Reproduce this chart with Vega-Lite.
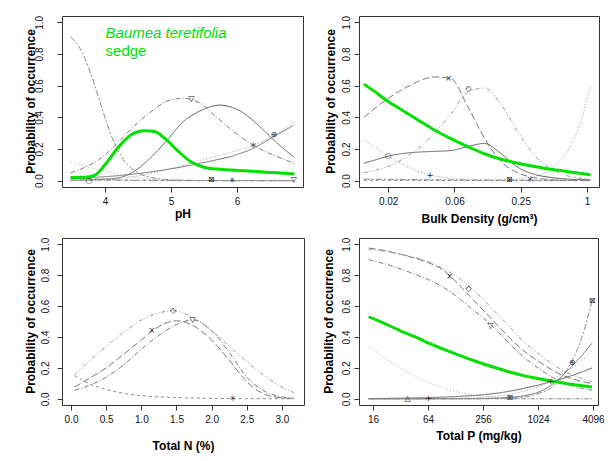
{
  "$schema": "https://vega.github.io/schema/vega-lite/v6.json",
  "background": "white",
  "padding": {"left": 23, "top": 14, "right": 5, "bottom": 5},
  "columns": 2,
  "bounds": "flush",
  "spacing": {"row": 51, "column": 55},
  "config": {
    "font": "Liberation Sans",
    "view": {"stroke": "#333333", "strokeWidth": 1},
    "axis": {
      "domain": false, "grid": false, "tickSize": 5, "tickColor": "#333333",
      "labelFont": "Liberation Sans", "labelFontSize": 10, "labelColor": "#111111",
      "titleFont": "Liberation Sans", "titleFontSize": 12, "titleFontWeight": "bold", "titleColor": "#000000",
      "labelFlush": false, "labelPadding": 4
    },
    "line": {"interpolate": "monotone", "strokeWidth": 1}
  },
  "datasets": {
    "ph_curves": [
      {"curve": "square", "pH": 3.48, "p": 0.91}, {"curve": "square", "pH": 3.6, "p": 0.85}, {"curve": "square", "pH": 3.7, "p": 0.77}, {"curve": "square", "pH": 3.8, "p": 0.66}, {"curve": "square", "pH": 3.9, "p": 0.53}, {"curve": "square", "pH": 4.0, "p": 0.40}, {"curve": "square", "pH": 4.1, "p": 0.28}, {"curve": "square", "pH": 4.2, "p": 0.19}, {"curve": "square", "pH": 4.3, "p": 0.12}, {"curve": "square", "pH": 4.4, "p": 0.08}, {"curve": "square", "pH": 4.5, "p": 0.05}, {"curve": "square", "pH": 4.7, "p": 0.02}, {"curve": "square", "pH": 4.9, "p": 0.008}, {"curve": "square", "pH": 5.2, "p": 0.003}, {"curve": "square", "pH": 5.6, "p": 0.001}, {"curve": "square", "pH": 6.87, "p": 0.0},
      {"curve": "nabla", "pH": 3.48, "p": 0.05}, {"curve": "nabla", "pH": 3.7, "p": 0.085}, {"curve": "nabla", "pH": 3.9, "p": 0.13}, {"curve": "nabla", "pH": 4.15, "p": 0.22}, {"curve": "nabla", "pH": 4.43, "p": 0.34}, {"curve": "nabla", "pH": 4.68, "p": 0.43}, {"curve": "nabla", "pH": 4.93, "p": 0.50}, {"curve": "nabla", "pH": 5.18, "p": 0.52}, {"curve": "nabla", "pH": 5.44, "p": 0.49}, {"curve": "nabla", "pH": 5.64, "p": 0.42}, {"curve": "nabla", "pH": 5.95, "p": 0.31}, {"curve": "nabla", "pH": 6.26, "p": 0.22}, {"curve": "nabla", "pH": 6.56, "p": 0.16}, {"curve": "nabla", "pH": 6.86, "p": 0.11},
      {"curve": "circle", "pH": 3.48, "p": 0.003}, {"curve": "circle", "pH": 3.9, "p": 0.008}, {"curve": "circle", "pH": 4.17, "p": 0.015}, {"curve": "circle", "pH": 4.43, "p": 0.056}, {"curve": "circle", "pH": 4.68, "p": 0.14}, {"curve": "circle", "pH": 4.93, "p": 0.25}, {"curve": "circle", "pH": 5.18, "p": 0.37}, {"curve": "circle", "pH": 5.44, "p": 0.44}, {"curve": "circle", "pH": 5.74, "p": 0.477}, {"curve": "circle", "pH": 6.05, "p": 0.44}, {"curve": "circle", "pH": 6.35, "p": 0.34}, {"curve": "circle", "pH": 6.6, "p": 0.24}, {"curve": "circle", "pH": 6.86, "p": 0.15},
      {"curve": "theta", "pH": 3.48, "p": 0.015}, {"curve": "theta", "pH": 4.0, "p": 0.025}, {"curve": "theta", "pH": 4.5, "p": 0.045}, {"curve": "theta", "pH": 5.0, "p": 0.075}, {"curve": "theta", "pH": 5.5, "p": 0.115}, {"curve": "theta", "pH": 6.0, "p": 0.165}, {"curve": "theta", "pH": 6.25, "p": 0.205}, {"curve": "theta", "pH": 6.5, "p": 0.265}, {"curve": "theta", "pH": 6.86, "p": 0.35},
      {"curve": "plus", "pH": 3.48, "p": 0.0}, {"curve": "plus", "pH": 4.0, "p": 0.005}, {"curve": "plus", "pH": 4.5, "p": 0.03}, {"curve": "plus", "pH": 5.0, "p": 0.075}, {"curve": "plus", "pH": 5.5, "p": 0.135}, {"curve": "plus", "pH": 6.0, "p": 0.19}, {"curve": "plus", "pH": 6.25, "p": 0.225}, {"curve": "plus", "pH": 6.5, "p": 0.27}, {"curve": "plus", "pH": 6.86, "p": 0.37},
      {"curve": "triangle", "pH": 3.48, "p": 0.12}, {"curve": "triangle", "pH": 3.8, "p": 0.08}, {"curve": "triangle", "pH": 4.1, "p": 0.05}, {"curve": "triangle", "pH": 4.4, "p": 0.025}, {"curve": "triangle", "pH": 4.7, "p": 0.01}, {"curve": "triangle", "pH": 5.0, "p": 0.004}, {"curve": "triangle", "pH": 5.5, "p": 0.001}, {"curve": "triangle", "pH": 6.87, "p": 0.0},
      {"curve": "flat", "pH": 3.48, "p": 0.003}, {"curve": "flat", "pH": 4.5, "p": 0.002}, {"curve": "flat", "pH": 5.5, "p": 0.0}, {"curve": "flat", "pH": 6.87, "p": 0.0},
      {"curve": "star", "pH": 3.48, "p": 0.02}, {"curve": "star", "pH": 3.8, "p": 0.012}, {"curve": "star", "pH": 4.2, "p": 0.005}, {"curve": "star", "pH": 5.0, "p": 0.001}, {"curve": "star", "pH": 6.87, "p": 0.0}
    ],
    "ph_sedge": [
      {"pH": 3.48, "p": 0.02}, {"pH": 3.7, "p": 0.021}, {"pH": 3.85, "p": 0.035}, {"pH": 4.0, "p": 0.1}, {"pH": 4.2, "p": 0.21}, {"pH": 4.4, "p": 0.29}, {"pH": 4.6, "p": 0.315}, {"pH": 4.75, "p": 0.31}, {"pH": 4.9, "p": 0.27}, {"pH": 5.1, "p": 0.19}, {"pH": 5.3, "p": 0.12}, {"pH": 5.5, "p": 0.085}, {"pH": 5.7, "p": 0.073}, {"pH": 5.9, "p": 0.068}, {"pH": 6.1, "p": 0.063}, {"pH": 6.3, "p": 0.058}, {"pH": 6.5, "p": 0.052}, {"pH": 6.7, "p": 0.047}, {"pH": 6.87, "p": 0.042}
    ],
    "ph_marks": [
      {"glyph": "○", "pH": 3.76, "p": 0.0}, {"glyph": "⊠", "pH": 5.61, "p": 0.002}, {"glyph": "✳", "pH": 5.93, "p": 0.0}, {"glyph": "▽", "pH": 6.86, "p": 0.002},
      {"glyph": "▽", "pH": 5.31, "p": 0.515}, {"glyph": "✳", "pH": 6.25, "p": 0.22}, {"glyph": "⊕", "pH": 6.56, "p": 0.29}
    ],
    "bd_curves": [
      {"curve": "cross", "bd": 0.0094, "p": 0.40}, {"curve": "cross", "bd": 0.0125, "p": 0.47}, {"curve": "cross", "bd": 0.0156, "p": 0.52}, {"curve": "cross", "bd": 0.0204, "p": 0.57}, {"curve": "cross", "bd": 0.0289, "p": 0.625}, {"curve": "cross", "bd": 0.041, "p": 0.655}, {"curve": "cross", "bd": 0.058, "p": 0.645}, {"curve": "cross", "bd": 0.0823, "p": 0.47}, {"curve": "cross", "bd": 0.1166, "p": 0.27}, {"curve": "cross", "bd": 0.166, "p": 0.12}, {"curve": "cross", "bd": 0.2345, "p": 0.05}, {"curve": "cross", "bd": 0.3325, "p": 0.018}, {"curve": "cross", "bd": 0.471, "p": 0.006}, {"curve": "cross", "bd": 0.668, "p": 0.002}, {"curve": "cross", "bd": 0.883, "p": 0.001}, {"curve": "cross", "bd": 1.074, "p": 0.0},
      {"curve": "diamond", "bd": 0.0094, "p": 0.05}, {"curve": "diamond", "bd": 0.0125, "p": 0.07}, {"curve": "diamond", "bd": 0.0156, "p": 0.09}, {"curve": "diamond", "bd": 0.0204, "p": 0.13}, {"curve": "diamond", "bd": 0.0289, "p": 0.2}, {"curve": "diamond", "bd": 0.041, "p": 0.3}, {"curve": "diamond", "bd": 0.058, "p": 0.42}, {"curve": "diamond", "bd": 0.0823, "p": 0.56}, {"curve": "diamond", "bd": 0.1166, "p": 0.585}, {"curve": "diamond", "bd": 0.166, "p": 0.48}, {"curve": "diamond", "bd": 0.2345, "p": 0.31}, {"curve": "diamond", "bd": 0.3325, "p": 0.16}, {"curve": "diamond", "bd": 0.471, "p": 0.075}, {"curve": "diamond", "bd": 0.668, "p": 0.03}, {"curve": "diamond", "bd": 0.883, "p": 0.015}, {"curve": "diamond", "bd": 1.074, "p": 0.01},
      {"curve": "plus", "bd": 0.0094, "p": 0.26}, {"curve": "plus", "bd": 0.0125, "p": 0.2}, {"curve": "plus", "bd": 0.0156, "p": 0.155}, {"curve": "plus", "bd": 0.0204, "p": 0.11}, {"curve": "plus", "bd": 0.0289, "p": 0.06}, {"curve": "plus", "bd": 0.041, "p": 0.03}, {"curve": "plus", "bd": 0.058, "p": 0.015}, {"curve": "plus", "bd": 0.0823, "p": 0.008}, {"curve": "plus", "bd": 0.1166, "p": 0.005}, {"curve": "plus", "bd": 0.166, "p": 0.005}, {"curve": "plus", "bd": 0.2345, "p": 0.01}, {"curve": "plus", "bd": 0.3325, "p": 0.025}, {"curve": "plus", "bd": 0.471, "p": 0.075}, {"curve": "plus", "bd": 0.668, "p": 0.19}, {"curve": "plus", "bd": 0.883, "p": 0.38}, {"curve": "plus", "bd": 1.074, "p": 0.6},
      {"curve": "circle", "bd": 0.0094, "p": 0.11}, {"curve": "circle", "bd": 0.0125, "p": 0.135}, {"curve": "circle", "bd": 0.0156, "p": 0.155}, {"curve": "circle", "bd": 0.0204, "p": 0.17}, {"curve": "circle", "bd": 0.0289, "p": 0.18}, {"curve": "circle", "bd": 0.041, "p": 0.185}, {"curve": "circle", "bd": 0.058, "p": 0.19}, {"curve": "circle", "bd": 0.0823, "p": 0.215}, {"curve": "circle", "bd": 0.1166, "p": 0.235}, {"curve": "circle", "bd": 0.166, "p": 0.17}, {"curve": "circle", "bd": 0.2345, "p": 0.085}, {"curve": "circle", "bd": 0.3325, "p": 0.04}, {"curve": "circle", "bd": 0.471, "p": 0.02}, {"curve": "circle", "bd": 0.668, "p": 0.01}, {"curve": "circle", "bd": 0.883, "p": 0.007}, {"curve": "circle", "bd": 1.074, "p": 0.005},
      {"curve": "star", "bd": 0.0094, "p": 0.002}, {"curve": "star", "bd": 1.074, "p": 0.0},
      {"curve": "square", "bd": 0.0094, "p": 0.01}, {"curve": "square", "bd": 0.05, "p": 0.005}, {"curve": "square", "bd": 0.2, "p": 0.003}, {"curve": "square", "bd": 1.074, "p": 0.002}
    ],
    "bd_sedge": [
      {"bd": 0.0094, "p": 0.61}, {"bd": 0.0125, "p": 0.55}, {"bd": 0.0156, "p": 0.50}, {"bd": 0.0204, "p": 0.45}, {"bd": 0.0289, "p": 0.385}, {"bd": 0.041, "p": 0.32}, {"bd": 0.058, "p": 0.265}, {"bd": 0.0823, "p": 0.215}, {"bd": 0.1166, "p": 0.17}, {"bd": 0.166, "p": 0.135}, {"bd": 0.2345, "p": 0.11}, {"bd": 0.3325, "p": 0.09}, {"bd": 0.471, "p": 0.072}, {"bd": 0.668, "p": 0.057}, {"bd": 0.883, "p": 0.045}, {"bd": 1.074, "p": 0.037}
    ],
    "bd_marks": [
      {"glyph": "○", "bd": 0.0156, "p": 0.155}, {"glyph": "+", "bd": 0.0375, "p": 0.03}, {"glyph": "×", "bd": 0.0553, "p": 0.64}, {"glyph": "◇", "bd": 0.084, "p": 0.58}, {"glyph": "⊠", "bd": 0.197, "p": 0.005}, {"glyph": "✳", "bd": 0.306, "p": 0.005}
    ],
    "tn_curves": [
      {"curve": "diamond", "tn": 0.05, "p": 0.155}, {"curve": "diamond", "tn": 0.25, "p": 0.24}, {"curve": "diamond", "tn": 0.5, "p": 0.34}, {"curve": "diamond", "tn": 0.75, "p": 0.43}, {"curve": "diamond", "tn": 1.0, "p": 0.51}, {"curve": "diamond", "tn": 1.25, "p": 0.555}, {"curve": "diamond", "tn": 1.45, "p": 0.57}, {"curve": "diamond", "tn": 1.75, "p": 0.52}, {"curve": "diamond", "tn": 2.0, "p": 0.44}, {"curve": "diamond", "tn": 2.25, "p": 0.34}, {"curve": "diamond", "tn": 2.5, "p": 0.24}, {"curve": "diamond", "tn": 2.75, "p": 0.15}, {"curve": "diamond", "tn": 3.0, "p": 0.075}, {"curve": "diamond", "tn": 3.17, "p": 0.04},
      {"curve": "nabla", "tn": 0.05, "p": 0.055}, {"curve": "nabla", "tn": 0.25, "p": 0.085}, {"curve": "nabla", "tn": 0.5, "p": 0.14}, {"curve": "nabla", "tn": 0.75, "p": 0.22}, {"curve": "nabla", "tn": 1.0, "p": 0.32}, {"curve": "nabla", "tn": 1.25, "p": 0.41}, {"curve": "nabla", "tn": 1.5, "p": 0.48}, {"curve": "nabla", "tn": 1.73, "p": 0.51}, {"curve": "nabla", "tn": 2.0, "p": 0.44}, {"curve": "nabla", "tn": 2.25, "p": 0.3}, {"curve": "nabla", "tn": 2.5, "p": 0.14}, {"curve": "nabla", "tn": 2.75, "p": 0.05}, {"curve": "nabla", "tn": 3.0, "p": 0.012}, {"curve": "nabla", "tn": 3.17, "p": 0.004},
      {"curve": "cross", "tn": 0.05, "p": 0.075}, {"curve": "cross", "tn": 0.25, "p": 0.13}, {"curve": "cross", "tn": 0.5, "p": 0.2}, {"curve": "cross", "tn": 0.75, "p": 0.29}, {"curve": "cross", "tn": 1.0, "p": 0.38}, {"curve": "cross", "tn": 1.15, "p": 0.437}, {"curve": "cross", "tn": 1.3, "p": 0.48}, {"curve": "cross", "tn": 1.5, "p": 0.505}, {"curve": "cross", "tn": 1.75, "p": 0.47}, {"curve": "cross", "tn": 2.0, "p": 0.38}, {"curve": "cross", "tn": 2.25, "p": 0.25}, {"curve": "cross", "tn": 2.5, "p": 0.11}, {"curve": "cross", "tn": 2.75, "p": 0.03}, {"curve": "cross", "tn": 3.0, "p": 0.006}, {"curve": "cross", "tn": 3.17, "p": 0.002},
      {"curve": "star", "tn": 0.05, "p": 0.15}, {"curve": "star", "tn": 0.25, "p": 0.1}, {"curve": "star", "tn": 0.5, "p": 0.06}, {"curve": "star", "tn": 0.75, "p": 0.035}, {"curve": "star", "tn": 1.0, "p": 0.02}, {"curve": "star", "tn": 1.5, "p": 0.008}, {"curve": "star", "tn": 2.0, "p": 0.003}, {"curve": "star", "tn": 2.5, "p": 0.001}, {"curve": "star", "tn": 3.17, "p": 0.0}
    ],
    "tn_marks": [
      {"glyph": "◇", "tn": 1.45, "p": 0.57}, {"glyph": "▽", "tn": 1.73, "p": 0.51}, {"glyph": "×", "tn": 1.15, "p": 0.437}, {"glyph": "✳", "tn": 2.3, "p": 0.0}
    ],
    "tp_curves": [
      {"curve": "cross", "tp": 14.34, "p": 0.975}, {"curve": "cross", "tp": 20.9, "p": 0.96}, {"curve": "cross", "tp": 31.9, "p": 0.935}, {"curve": "cross", "tp": 48.5, "p": 0.905}, {"curve": "cross", "tp": 65.1, "p": 0.88}, {"curve": "cross", "tp": 95, "p": 0.83}, {"curve": "cross", "tp": 133, "p": 0.75}, {"curve": "cross", "tp": 186, "p": 0.66}, {"curve": "cross", "tp": 260, "p": 0.57}, {"curve": "cross", "tp": 364, "p": 0.48}, {"curve": "cross", "tp": 510, "p": 0.39}, {"curve": "cross", "tp": 714, "p": 0.31}, {"curve": "cross", "tp": 1050, "p": 0.24}, {"curve": "cross", "tp": 1520, "p": 0.18}, {"curve": "cross", "tp": 2127, "p": 0.14}, {"curve": "cross", "tp": 2978, "p": 0.115}, {"curve": "cross", "tp": 3996, "p": 0.098},
      {"curve": "diamond", "tp": 14.34, "p": 0.965}, {"curve": "diamond", "tp": 20.9, "p": 0.955}, {"curve": "diamond", "tp": 31.9, "p": 0.935}, {"curve": "diamond", "tp": 48.5, "p": 0.91}, {"curve": "diamond", "tp": 65.1, "p": 0.885}, {"curve": "diamond", "tp": 95, "p": 0.84}, {"curve": "diamond", "tp": 133, "p": 0.79}, {"curve": "diamond", "tp": 186, "p": 0.72}, {"curve": "diamond", "tp": 260, "p": 0.64}, {"curve": "diamond", "tp": 364, "p": 0.55}, {"curve": "diamond", "tp": 510, "p": 0.46}, {"curve": "diamond", "tp": 714, "p": 0.37}, {"curve": "diamond", "tp": 1050, "p": 0.29}, {"curve": "diamond", "tp": 1520, "p": 0.22}, {"curve": "diamond", "tp": 2127, "p": 0.17}, {"curve": "diamond", "tp": 2978, "p": 0.135}, {"curve": "diamond", "tp": 3996, "p": 0.11},
      {"curve": "nabla", "tp": 14.34, "p": 0.9}, {"curve": "nabla", "tp": 20.9, "p": 0.875}, {"curve": "nabla", "tp": 31.9, "p": 0.84}, {"curve": "nabla", "tp": 48.5, "p": 0.8}, {"curve": "nabla", "tp": 65.1, "p": 0.77}, {"curve": "nabla", "tp": 95, "p": 0.72}, {"curve": "nabla", "tp": 133, "p": 0.66}, {"curve": "nabla", "tp": 186, "p": 0.59}, {"curve": "nabla", "tp": 260, "p": 0.52}, {"curve": "nabla", "tp": 364, "p": 0.44}, {"curve": "nabla", "tp": 510, "p": 0.35}, {"curve": "nabla", "tp": 714, "p": 0.27}, {"curve": "nabla", "tp": 1050, "p": 0.195}, {"curve": "nabla", "tp": 1520, "p": 0.135}, {"curve": "nabla", "tp": 2127, "p": 0.095}, {"curve": "nabla", "tp": 2978, "p": 0.07}, {"curve": "nabla", "tp": 3996, "p": 0.056},
      {"curve": "triangle", "tp": 14.34, "p": 0.34}, {"curve": "triangle", "tp": 20.9, "p": 0.27}, {"curve": "triangle", "tp": 31.9, "p": 0.2}, {"curve": "triangle", "tp": 48.5, "p": 0.14}, {"curve": "triangle", "tp": 65.1, "p": 0.105}, {"curve": "triangle", "tp": 95, "p": 0.07}, {"curve": "triangle", "tp": 133, "p": 0.045}, {"curve": "triangle", "tp": 186, "p": 0.028}, {"curve": "triangle", "tp": 260, "p": 0.017}, {"curve": "triangle", "tp": 364, "p": 0.01}, {"curve": "triangle", "tp": 510, "p": 0.006}, {"curve": "triangle", "tp": 714, "p": 0.004}, {"curve": "triangle", "tp": 1050, "p": 0.002}, {"curve": "triangle", "tp": 1520, "p": 0.001}, {"curve": "triangle", "tp": 3996, "p": 0.0},
      {"curve": "circle", "tp": 14.34, "p": 0.002}, {"curve": "circle", "tp": 31.9, "p": 0.004}, {"curve": "circle", "tp": 65.1, "p": 0.008}, {"curve": "circle", "tp": 133, "p": 0.015}, {"curve": "circle", "tp": 260, "p": 0.027}, {"curve": "circle", "tp": 510, "p": 0.05}, {"curve": "circle", "tp": 714, "p": 0.068}, {"curve": "circle", "tp": 1050, "p": 0.09}, {"curve": "circle", "tp": 1520, "p": 0.115}, {"curve": "circle", "tp": 2127, "p": 0.14}, {"curve": "circle", "tp": 2978, "p": 0.17}, {"curve": "circle", "tp": 3996, "p": 0.2},
      {"curve": "plus", "tp": 14.34, "p": 0.0}, {"curve": "plus", "tp": 95, "p": 0.001}, {"curve": "plus", "tp": 186, "p": 0.006}, {"curve": "plus", "tp": 364, "p": 0.018}, {"curve": "plus", "tp": 510, "p": 0.03}, {"curve": "plus", "tp": 714, "p": 0.05}, {"curve": "plus", "tp": 1050, "p": 0.08}, {"curve": "plus", "tp": 1520, "p": 0.13}, {"curve": "plus", "tp": 2127, "p": 0.18}, {"curve": "plus", "tp": 2978, "p": 0.24}, {"curve": "plus", "tp": 3996, "p": 0.31},
      {"curve": "theta", "tp": 14.34, "p": 0.0}, {"curve": "theta", "tp": 186, "p": 0.001}, {"curve": "theta", "tp": 364, "p": 0.004}, {"curve": "theta", "tp": 510, "p": 0.01}, {"curve": "theta", "tp": 714, "p": 0.02}, {"curve": "theta", "tp": 1050, "p": 0.045}, {"curve": "theta", "tp": 1520, "p": 0.1}, {"curve": "theta", "tp": 2127, "p": 0.18}, {"curve": "theta", "tp": 2978, "p": 0.27}, {"curve": "theta", "tp": 3996, "p": 0.36},
      {"curve": "square", "tp": 14.34, "p": 0.0}, {"curve": "square", "tp": 186, "p": 0.001}, {"curve": "square", "tp": 364, "p": 0.003}, {"curve": "square", "tp": 510, "p": 0.005}, {"curve": "square", "tp": 714, "p": 0.012}, {"curve": "square", "tp": 1050, "p": 0.035}, {"curve": "square", "tp": 1520, "p": 0.085}, {"curve": "square", "tp": 2127, "p": 0.19}, {"curve": "square", "tp": 2978, "p": 0.37}, {"curve": "square", "tp": 3996, "p": 0.63},
      {"curve": "flat", "tp": 14.34, "p": 0.0}, {"curve": "flat", "tp": 3996, "p": 0.0}
    ],
    "tp_sedge": [
      {"tp": 14.34, "p": 0.53}, {"tp": 20.9, "p": 0.49}, {"tp": 31.9, "p": 0.44}, {"tp": 48.5, "p": 0.395}, {"tp": 65.1, "p": 0.36}, {"tp": 95, "p": 0.32}, {"tp": 133, "p": 0.287}, {"tp": 186, "p": 0.255}, {"tp": 260, "p": 0.225}, {"tp": 364, "p": 0.198}, {"tp": 510, "p": 0.172}, {"tp": 714, "p": 0.15}, {"tp": 1050, "p": 0.13}, {"tp": 1520, "p": 0.112}, {"tp": 2127, "p": 0.098}, {"tp": 2978, "p": 0.086}, {"tp": 3996, "p": 0.077}
    ],
    "tp_marks": [
      {"glyph": "△", "tp": 38.3, "p": 0.0}, {"glyph": "+", "tp": 65.1, "p": 0.0}, {"glyph": "⊠", "tp": 502, "p": 0.008}, {"glyph": "+", "tp": 1418, "p": 0.11},
      {"glyph": "⊕", "tp": 2412, "p": 0.23}, {"glyph": "⊠", "tp": 3996, "p": 0.63}, {"glyph": "×", "tp": 110, "p": 0.79}, {"glyph": "◇", "tp": 178, "p": 0.71}, {"glyph": "▽", "tp": 308, "p": 0.47}
    ],
    "species_label": [
      {"pH": 4.01, "p": 0.9, "name": "Baumea teretifolia", "kind": "sedge"}
    ]
  },
  "concat": [
    {
      "width": 241, "height": 171,
      "encoding": {
        "x": {"field": "pH", "type": "quantitative", "scale": {"domain": [3.35, 7.0], "nice": false, "zero": false}, "axis": {"values": [4, 5, 6], "format": "d", "title": "pH", "titlePadding": 2}},
        "y": {"field": "p", "type": "quantitative", "scale": {"domain": [-0.04, 1.04], "nice": false, "zero": false}, "axis": {"values": [0, 0.2, 0.4, 0.6, 0.8, 1], "format": ".1f", "title": "Probability of occurrence", "labelAngle": 270, "labelAlign": "center", "labelBaseline": "bottom", "labelOverlap": false, "labelPadding": 13, "titleX": -32, "titleY": 85, "titleBaseline": "middle"}}
      },
      "layer": [
        {
          "data": {"name": "ph_curves"},
          "mark": {"type": "line"},
          "encoding": {
            "detail": {"field": "curve"},
            "color": {"field": "curve", "type": "nominal", "legend": null, "scale": {"domain": ["circle", "theta", "plus", "cross", "diamond", "nabla", "square", "star", "triangle", "flat"], "range": ["#5e5e5e", "#6e6e6e", "#9a9a9a", "#777777", "#9a9a9a", "#7a7a7a", "#888888", "#888888", "#aaaaaa", "#8c8c8c"]}},
            "strokeDash": {"field": "curve", "type": "nominal", "legend": null, "scale": {"domain": ["circle", "theta", "plus", "cross", "diamond", "nabla", "square", "star", "triangle", "flat"], "range": [[1, 0], [1, 0], [1, 2], [7, 3], [4, 2, 1, 2, 1, 2], [5, 2, 1, 2], [6, 2, 2, 2], [3, 3], [1, 2], [4, 2, 1, 2]]}}
          }
        },
        {"data": {"name": "ph_sedge"}, "mark": {"type": "line", "color": "#00e000", "strokeWidth": 3}, "encoding": {}},
        {"data": {"name": "ph_marks"}, "mark": {"type": "text", "font": "DejaVu Sans", "fontSize": 8, "fill": "#222222"}, "encoding": {"text": {"field": "glyph"}}},
        {"data": {"name": "species_label"}, "mark": {"type": "text", "font": "Liberation Sans", "fontSize": 15, "fontStyle": "italic", "fill": "#00e000", "align": "left", "baseline": "alphabetic"}, "encoding": {"text": {"field": "name"}}},
        {"data": {"name": "species_label"}, "mark": {"type": "text", "font": "Liberation Sans", "fontSize": 15, "fill": "#00e000", "align": "left", "baseline": "alphabetic", "dy": 18}, "encoding": {"text": {"field": "kind"}}}
      ]
    },
    {
      "width": 240, "height": 171,
      "encoding": {
        "x": {"field": "bd", "type": "quantitative", "scale": {"type": "log", "base": 2, "domain": [0.00849, 1.2834], "nice": false}, "axis": {"values": [0.015625, 0.0625, 0.25, 1], "labelExpr": "datum.value == 1 ? '1' : datum.value == 0.25 ? '0.25' : datum.value == 0.0625 ? '0.06' : '0.02'", "title": "Bulk Density (g/cm³)", "titlePadding": 7}},
        "y": {"field": "p", "type": "quantitative", "scale": {"domain": [-0.04, 1.04], "nice": false, "zero": false}, "axis": {"values": [0, 0.2, 0.4, 0.6, 0.8, 1], "format": ".1f", "title": "Probability of occurrence", "labelAngle": 270, "labelAlign": "center", "labelBaseline": "bottom", "labelOverlap": false, "labelPadding": 3, "titleX": -29, "titleY": 85, "titleBaseline": "middle"}}
      },
      "layer": [
        {
          "data": {"name": "bd_curves"},
          "mark": {"type": "line"},
          "encoding": {
            "detail": {"field": "curve"},
            "color": {"field": "curve", "type": "nominal", "legend": null, "scale": {"domain": ["circle", "theta", "plus", "cross", "diamond", "nabla", "square", "star", "triangle", "flat"], "range": ["#5e5e5e", "#6e6e6e", "#9a9a9a", "#777777", "#9a9a9a", "#7a7a7a", "#888888", "#888888", "#aaaaaa", "#8c8c8c"]}},
            "strokeDash": {"field": "curve", "type": "nominal", "legend": null, "scale": {"domain": ["circle", "theta", "plus", "cross", "diamond", "nabla", "square", "star", "triangle", "flat"], "range": [[1, 0], [1, 0], [1, 2], [7, 3], [4, 2, 1, 2, 1, 2], [5, 2, 1, 2], [6, 2, 2, 2], [3, 3], [1, 2], [4, 2, 1, 2]]}}
          }
        },
        {"data": {"name": "bd_sedge"}, "mark": {"type": "line", "color": "#00e000", "strokeWidth": 3}, "encoding": {}},
        {"data": {"name": "bd_marks"}, "mark": {"type": "text", "font": "DejaVu Sans", "fontSize": 8, "fill": "#222222"}, "encoding": {"text": {"field": "glyph"}}}
      ]
    },
    {
      "width": 242, "height": 167,
      "encoding": {
        "x": {"field": "tn", "type": "quantitative", "scale": {"domain": [-0.128, 3.313], "nice": false, "zero": false}, "axis": {"values": [0, 0.5, 1, 1.5, 2, 2.5, 3], "format": ".1f", "title": "Total N (%)", "titlePadding": 16}},
        "y": {"field": "p", "type": "quantitative", "scale": {"domain": [-0.04, 1.04], "nice": false, "zero": false}, "axis": {"values": [0, 0.2, 0.4, 0.6, 0.8, 1], "format": ".1f", "title": "Probability of occurrence", "labelAngle": 270, "labelAlign": "center", "labelBaseline": "bottom", "labelOverlap": false, "labelPadding": 7, "titleX": -32, "titleY": 83, "titleBaseline": "middle"}}
      },
      "layer": [
        {
          "data": {"name": "tn_curves"},
          "mark": {"type": "line"},
          "encoding": {
            "detail": {"field": "curve"},
            "color": {"field": "curve", "type": "nominal", "legend": null, "scale": {"domain": ["circle", "theta", "plus", "cross", "diamond", "nabla", "square", "star", "triangle", "flat"], "range": ["#5e5e5e", "#6e6e6e", "#9a9a9a", "#777777", "#9a9a9a", "#7a7a7a", "#888888", "#888888", "#aaaaaa", "#8c8c8c"]}},
            "strokeDash": {"field": "curve", "type": "nominal", "legend": null, "scale": {"domain": ["circle", "theta", "plus", "cross", "diamond", "nabla", "square", "star", "triangle", "flat"], "range": [[1, 0], [1, 0], [1, 2], [7, 3], [4, 2, 1, 2, 1, 2], [5, 2, 1, 2], [6, 2, 2, 2], [3, 3], [1, 2], [4, 2, 1, 2]]}}
          }
        },
        {"data": {"name": "tn_marks"}, "mark": {"type": "text", "font": "DejaVu Sans", "fontSize": 8, "fill": "#222222"}, "encoding": {"text": {"field": "glyph"}}}
      ]
    },
    {
      "width": 239, "height": 167,
      "encoding": {
        "x": {"field": "tp", "type": "quantitative", "scale": {"type": "log", "base": 2, "domain": [11.24, 4641], "nice": false}, "axis": {"values": [16, 64, 256, 1024, 4096], "format": "d", "title": "Total P (mg/kg)", "titlePadding": 6}},
        "y": {"field": "p", "type": "quantitative", "scale": {"domain": [-0.04, 1.04], "nice": false, "zero": false}, "axis": {"values": [0, 0.2, 0.4, 0.6, 0.8, 1], "format": ".1f", "title": "Probability of occurrence", "labelAngle": 270, "labelAlign": "center", "labelBaseline": "bottom", "labelOverlap": false, "labelPadding": 3, "titleX": -31, "titleY": 83, "titleBaseline": "middle"}}
      },
      "layer": [
        {
          "data": {"name": "tp_curves"},
          "mark": {"type": "line"},
          "encoding": {
            "detail": {"field": "curve"},
            "color": {"field": "curve", "type": "nominal", "legend": null, "scale": {"domain": ["circle", "theta", "plus", "cross", "diamond", "nabla", "square", "star", "triangle", "flat"], "range": ["#5e5e5e", "#6e6e6e", "#9a9a9a", "#777777", "#9a9a9a", "#7a7a7a", "#888888", "#888888", "#aaaaaa", "#8c8c8c"]}},
            "strokeDash": {"field": "curve", "type": "nominal", "legend": null, "scale": {"domain": ["circle", "theta", "plus", "cross", "diamond", "nabla", "square", "star", "triangle", "flat"], "range": [[1, 0], [1, 0], [1, 2], [7, 3], [4, 2, 1, 2, 1, 2], [5, 2, 1, 2], [6, 2, 2, 2], [3, 3], [1, 2], [4, 2, 1, 2]]}}
          }
        },
        {"data": {"name": "tp_sedge"}, "mark": {"type": "line", "color": "#00e000", "strokeWidth": 3}, "encoding": {}},
        {"data": {"name": "tp_marks"}, "mark": {"type": "text", "font": "DejaVu Sans", "fontSize": 8, "fill": "#222222"}, "encoding": {"text": {"field": "glyph"}}}
      ]
    }
  ]
}
